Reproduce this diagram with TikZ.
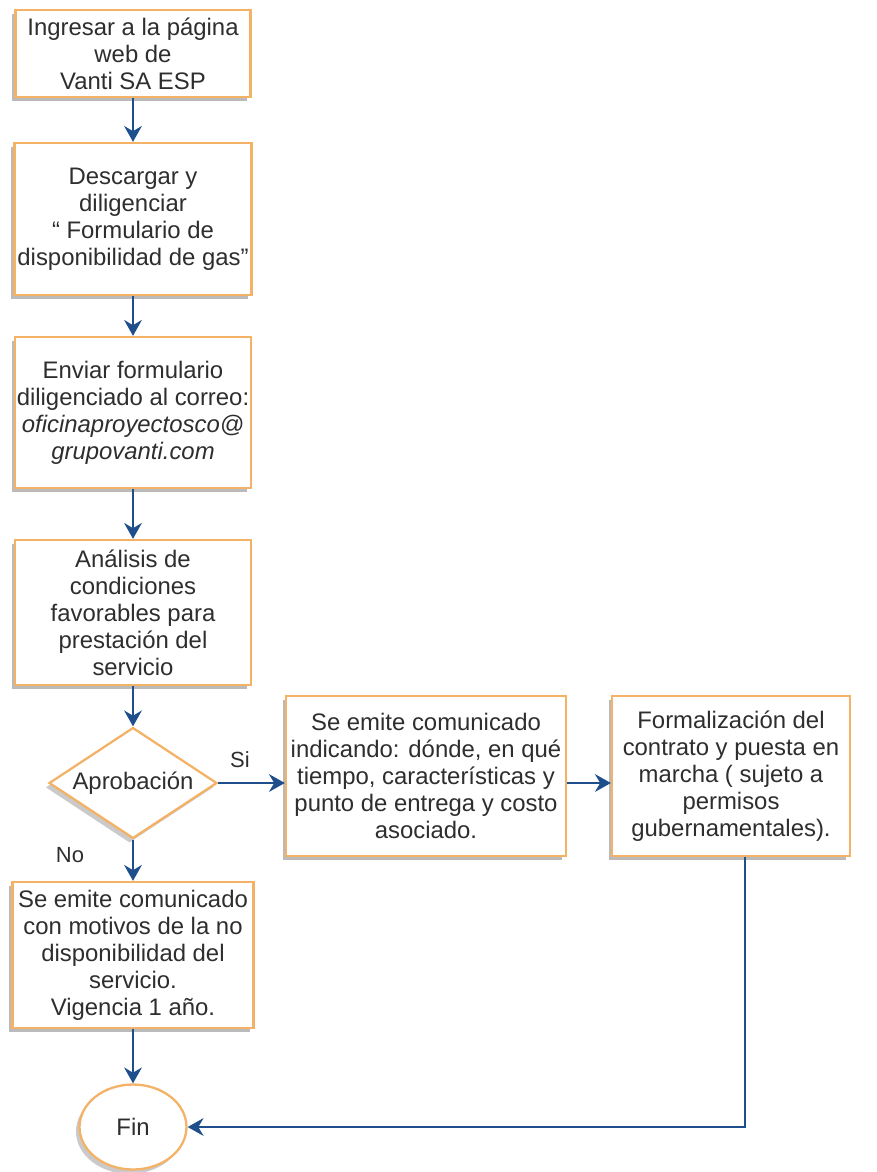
\documentclass[tikz,border=0pt]{standalone}
\usepackage{fontspec}
\setmainfont{Liberation Sans}
\usetikzlibrary{positioning, arrows.meta, shapes.geometric, shadows}
\definecolor{boxorange}{HTML}{F4B266}
\definecolor{flowblue}{HTML}{1F4E8C}
\definecolor{txtgray}{HTML}{2E2E2E}

\begin{document}
\begin{tikzpicture}[
  x=0.02cm, y=-0.02cm,
  >={Stealth[length=9pt, width=10pt]},
  every node/.style={font=\fontsize{13.6}{15.4}\selectfont, text=txtgray},
  % all boxes share the orange frame and the soft grey shadow
  proc/.style={rectangle, draw=boxorange, line width=1.3pt, fill=white, align=center, inner sep=0pt,
    drop shadow={shadow xshift=-2pt, shadow yshift=-2.5pt, opacity=0.45, fill=black!60}},
  dec/.style={diamond, aspect=1.5, draw=boxorange, line width=1.3pt, fill=white, inner sep=0pt,
    minimum width=3.36cm, minimum height=2.22cm,
    drop shadow={shadow xshift=-2pt, shadow yshift=-2.5pt, opacity=0.35, fill=black!60}},
  term/.style={ellipse, draw=boxorange, line width=1.3pt, fill=white, minimum width=2.14cm, minimum height=1.7cm,
    drop shadow={shadow xshift=-2pt, shadow yshift=-2.5pt, opacity=0.35, fill=black!60}},
  flow/.style={->, draw=flowblue, line width=1.5pt},
  lbl/.style={font=\fontsize{12.5}{14}\selectfont}
]
\useasboundingbox (0,0) rectangle (876,1172);

% Main column
\node[proc, minimum width=4.7cm, minimum height=1.74cm] (web) at (133,53.5) {Ingresar a la página\\web de\\Vanti SA ESP};
\node[proc, minimum width=4.74cm, minimum height=3.04cm] (form) at (133,219) {Descargar y\\diligenciar\\“ Formulario de\\disponibilidad de gas”};
\node[proc, minimum width=4.72cm, minimum height=3.02cm] (mail) at (133,412.5) {Enviar formulario\\diligenciado al correo:\\\textit{oficinaproyectosco@}\\\textit{grupovanti.com}};
\node[proc, minimum width=4.72cm, minimum height=2.9cm] (anal) at (133,612.5) {Análisis de\\condiciones\\favorables para\\prestación del\\servicio};

% Decision
\node[dec] (aprob) at (133,783) {Aprobación};
\node[lbl] (si) at (240,760) {Si};
\node[lbl] (no) at (70,855) {No};

% Branch "No"
\node[proc, minimum width=4.82cm, minimum height=2.92cm] (nodisp) at (133,955) {Se emite comunicado\\con motivos de la no\\disponibilidad del\\servicio.\\Vigencia 1 año.};
\node[term] (fin) at (133,1127) {Fin};

% Branch "Si"
\node[proc, minimum width=5.6cm, minimum height=3.2cm] (comun) at (426,776) {Se emite comunicado\\indicando: dónde, en qué\\tiempo, características y\\punto de entrega y costo\\asociado.};
\node[proc, minimum width=4.76cm, minimum height=3.2cm] (formal) at (731,776) {Formalización del\\contrato y puesta en\\marcha ( sujeto a\\permisos\\gubernamentales).};

% Connectors
\draw[flow] (web) -- (form);
\draw[flow] (form) -- (mail);
\draw[flow] (mail) -- (anal);
\draw[flow] (anal) -- (aprob);
\draw[flow] (aprob) -- (nodisp);
\draw[flow] (nodisp) -- (fin);
\draw[flow] (aprob.east) -- (aprob.east -| comun.west);
\draw[flow] (aprob.east -| comun.east) -- (aprob.east -| formal.west);

% return line to the end
\coordinate (corner) at (745,1127);
\draw[flow] (formal.south -| corner) |- (fin.east);

\end{tikzpicture}
\end{document}
